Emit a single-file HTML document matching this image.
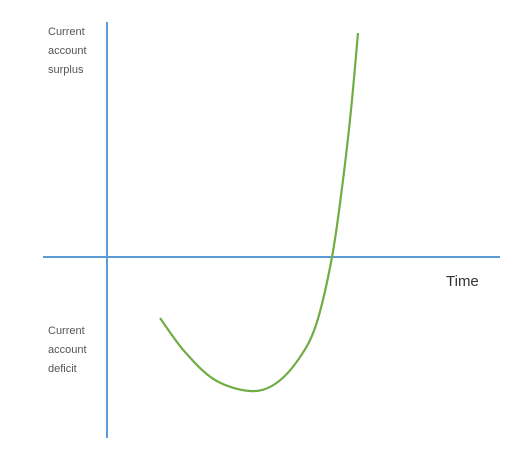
<!DOCTYPE html>
<html><head><meta charset="utf-8"><style>
body{margin:0;background:#fff;width:532px;height:471px;overflow:hidden}
svg{display:block}
text{font-family:"Liberation Sans",sans-serif;fill:#555;font-size:11px}
</style></head><body>
<svg width="532" height="471">
<line x1="107" y1="22" x2="107" y2="438" stroke="#5b9bd5" stroke-width="2"/>
<line x1="43" y1="257" x2="500" y2="257" stroke="#5b9bd5" stroke-width="2"/>
<g><text x="48" y="35">Current</text><text x="48" y="54">account</text><text x="48" y="73">surplus</text></g>
<g><text x="48" y="334">Current</text><text x="48" y="353">account</text><text x="48" y="372">deficit</text></g>
<text x="446" y="286" style="font-size:15px;fill:#333">Time</text>
<path id="curve" fill="none" stroke="#70ad47" stroke-width="2.2"/>
</svg>
<script>
const times=[53,78,108,143,168,191,209,225,236,244,251];
const balance=[-61,-95,-123,-134,-127,-103,-68,0,77,147,224];
const X=t=>107+t, Y=v=>257-v;
const p=times.map((t,i)=>[X(t),Y(balance[i])]);
let d=`M${p[0][0]},${p[0][1]}`;
for(let i=0;i<p.length-1;i++){
 const p0=p[i-1]||p[i],p1=p[i],p2=p[i+1],p3=p[i+2]||p2;
 d+=` C${p1[0]+(p2[0]-p0[0])/6},${p1[1]+(p2[1]-p0[1])/6} ${p2[0]-(p3[0]-p1[0])/6},${p2[1]-(p3[1]-p1[1])/6} ${p2[0]},${p2[1]}`;
}
document.getElementById('curve').setAttribute('d',d);
</script>
</body></html>
